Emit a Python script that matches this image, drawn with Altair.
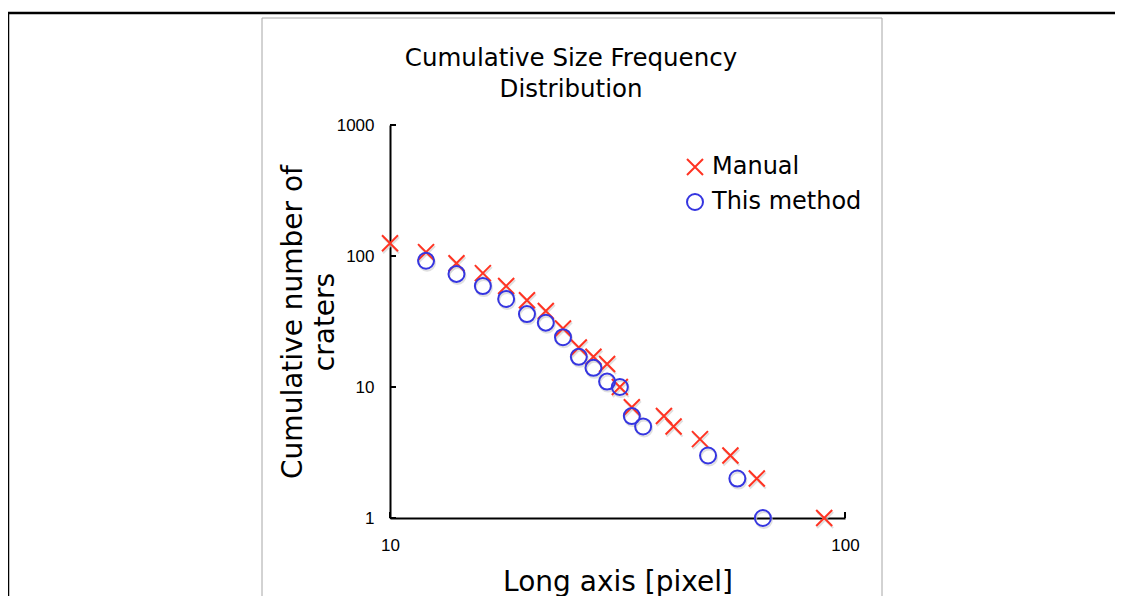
import altair as alt
import pandas as pd

# ---- data ----
manual_x = [10, 12, 14, 16, 18, 20, 22, 24, 26, 28, 30, 32, 34, 40, 42, 48, 56, 64, 90]
manual_y = [125, 107, 88, 74, 59, 46, 38, 28, 20, 17, 15, 10, 7, 6, 5, 4, 3, 2, 1]
method_x = [12, 14, 16, 18, 20, 22, 24, 26, 28, 30, 32, 34, 36, 50, 58, 66]
method_y = [92, 73, 59, 47, 36, 31, 24, 17, 14, 11, 10, 6, 5, 3, 2, 1]
series_names = ["Manual", "This method"]
x_ticks = [10, 100]
y_ticks = [1, 10, 100, 1000]
title_lines = ["Cumulative Size Frequency", "Distribution"]
x_title = "Long axis [pixel]"
y_title = ["Cumulative number of", "craters"]

# ---- styling ----
FONT = "DejaVu Sans"
LABEL_FONT = "Liberation Sans"
RED = "#ff3322"
BLUE = "#3535e0"
XPATH = "M-1,-1L1,1M-1,1L1,-1"
W, H = 455, 393

df = pd.concat([
    pd.DataFrame({"x": manual_x, "y": manual_y, "series": series_names[0]}),
    pd.DataFrame({"x": method_x, "y": method_y, "series": series_names[1]}),
], ignore_index=True)

xscale = alt.Scale(type="log", domain=[10, 100], nice=False)
yscale = alt.Scale(type="log", domain=[1, 1000], nice=False)

x_axis = alt.Axis(values=x_ticks, format="d", grid=False, ticks=False, tickSize=0,
                  labelFont=LABEL_FONT, labelFontSize=17, labelColor="black", labelPadding=19,
                  labelFlush=False,
                  domainColor="black", domainWidth=2,
                  title=x_title, titleFont=FONT, titleFontSize=28, titleFontWeight="normal",
                  titleColor="black", titleY=64, titleBaseline="middle")
y_axis = alt.Axis(values=y_ticks, format="d", grid=False, ticks=False, tickSize=0,
                  labelFont=LABEL_FONT, labelFontSize=17, labelColor="black", labelPadding=16,
                  labelFlush=False,
                  domainColor="black", domainWidth=2,
                  title=y_title, titleFont=FONT, titleFontSize=28, titleFontWeight="normal",
                  titleColor="black", titleLineHeight=32, titleX=-83, titleY=H / 2,
                  titleBaseline="bottom", titleAngle=270)

legend = alt.Legend(title=None, orient="none", legendX=293, legendY=30, padding=0,
                    labelFont=FONT, labelFontSize=24, labelColor="black", labelOffset=5,
                    symbolSize=256, symbolStrokeWidth=2, rowPadding=11)

points = alt.Chart(df).mark_point(filled=False, strokeWidth=2, size=256, opacity=1).encode(
    x=alt.X("x:Q", scale=xscale, axis=x_axis),
    y=alt.Y("y:Q", scale=yscale, axis=y_axis),
    color=alt.Color("series:N", scale=alt.Scale(domain=series_names, range=[RED, BLUE]), legend=legend),
    shape=alt.Shape("series:N", scale=alt.Scale(domain=series_names, range=[XPATH, "circle"]), legend=legend),
)

shadow_m = alt.Chart(df).transform_filter(alt.datum.series == series_names[0]).mark_point(
    filled=False, strokeWidth=2, size=256, shape=XPATH, color="#d4d4d4", xOffset=1, yOffset=2
).encode(x=alt.X("x:Q", scale=xscale), y=alt.Y("y:Q", scale=yscale))
shadow_c = alt.Chart(df).transform_filter(alt.datum.series == series_names[1]).mark_point(
    filled=False, strokeWidth=2, size=256, shape="circle", color="#d4d4d4", xOffset=1, yOffset=2
).encode(x=alt.X("x:Q", scale=xscale), y=alt.Y("y:Q", scale=yscale))

# inward tick marks
ytick_df = pd.DataFrame({"y": y_ticks})
xtick_df = pd.DataFrame({"x": x_ticks})
yticks = alt.Chart(ytick_df).mark_rule(color="black", strokeWidth=2).encode(
    y=alt.Y("y:Q", scale=yscale), x=alt.value(0), x2=alt.value(6))
xticks = alt.Chart(xtick_df).mark_rule(color="black", strokeWidth=2).encode(
    x=alt.X("x:Q", scale=xscale), y=alt.value(H), y2=alt.value(H - 6))

one = alt.Data(values=[{"k": 0}])

def rule(x, x2, y, y2, color, sw):
    return alt.Chart(one).mark_rule(color=color, strokeWidth=sw).encode(
        x=alt.value(x), x2=alt.value(x2), y=alt.value(y), y2=alt.value(y2))

frame = [
    rule(-382, 740, -112, -112, "black", 2.5),
    rule(-382, -382, -112, 480, "black", 2.5),
    rule(-128, 492, -107, -107, "#a6a6a6", 1),
    rule(-128, -128, -107, 480, "#a6a6a6", 1),
    rule(492, 492, -107, 480, "#a6a6a6", 1),
]

titles = [
    alt.Chart(one).mark_text(font=FONT, fontSize=24.5, color="black", align="center", baseline="middle").encode(
        x=alt.value(181), y=alt.value(-66), text=alt.value(title_lines[0])),
    alt.Chart(one).mark_text(font=FONT, fontSize=24.5, color="black", align="center", baseline="middle").encode(
        x=alt.value(181), y=alt.value(-35), text=alt.value(title_lines[1])),
]

chart = alt.layer(*frame, shadow_m, shadow_c, points, yticks, xticks, *titles).properties(
    width=W, height=H,
    autosize=alt.AutoSizeParams(type="none"),
    padding={"left": 382, "top": 117, "right": 270, "bottom": 78},
    background="white",
).configure_view(stroke=None)

chart.save("out.html", embed_options={"renderer": "svg", "actions": False})
